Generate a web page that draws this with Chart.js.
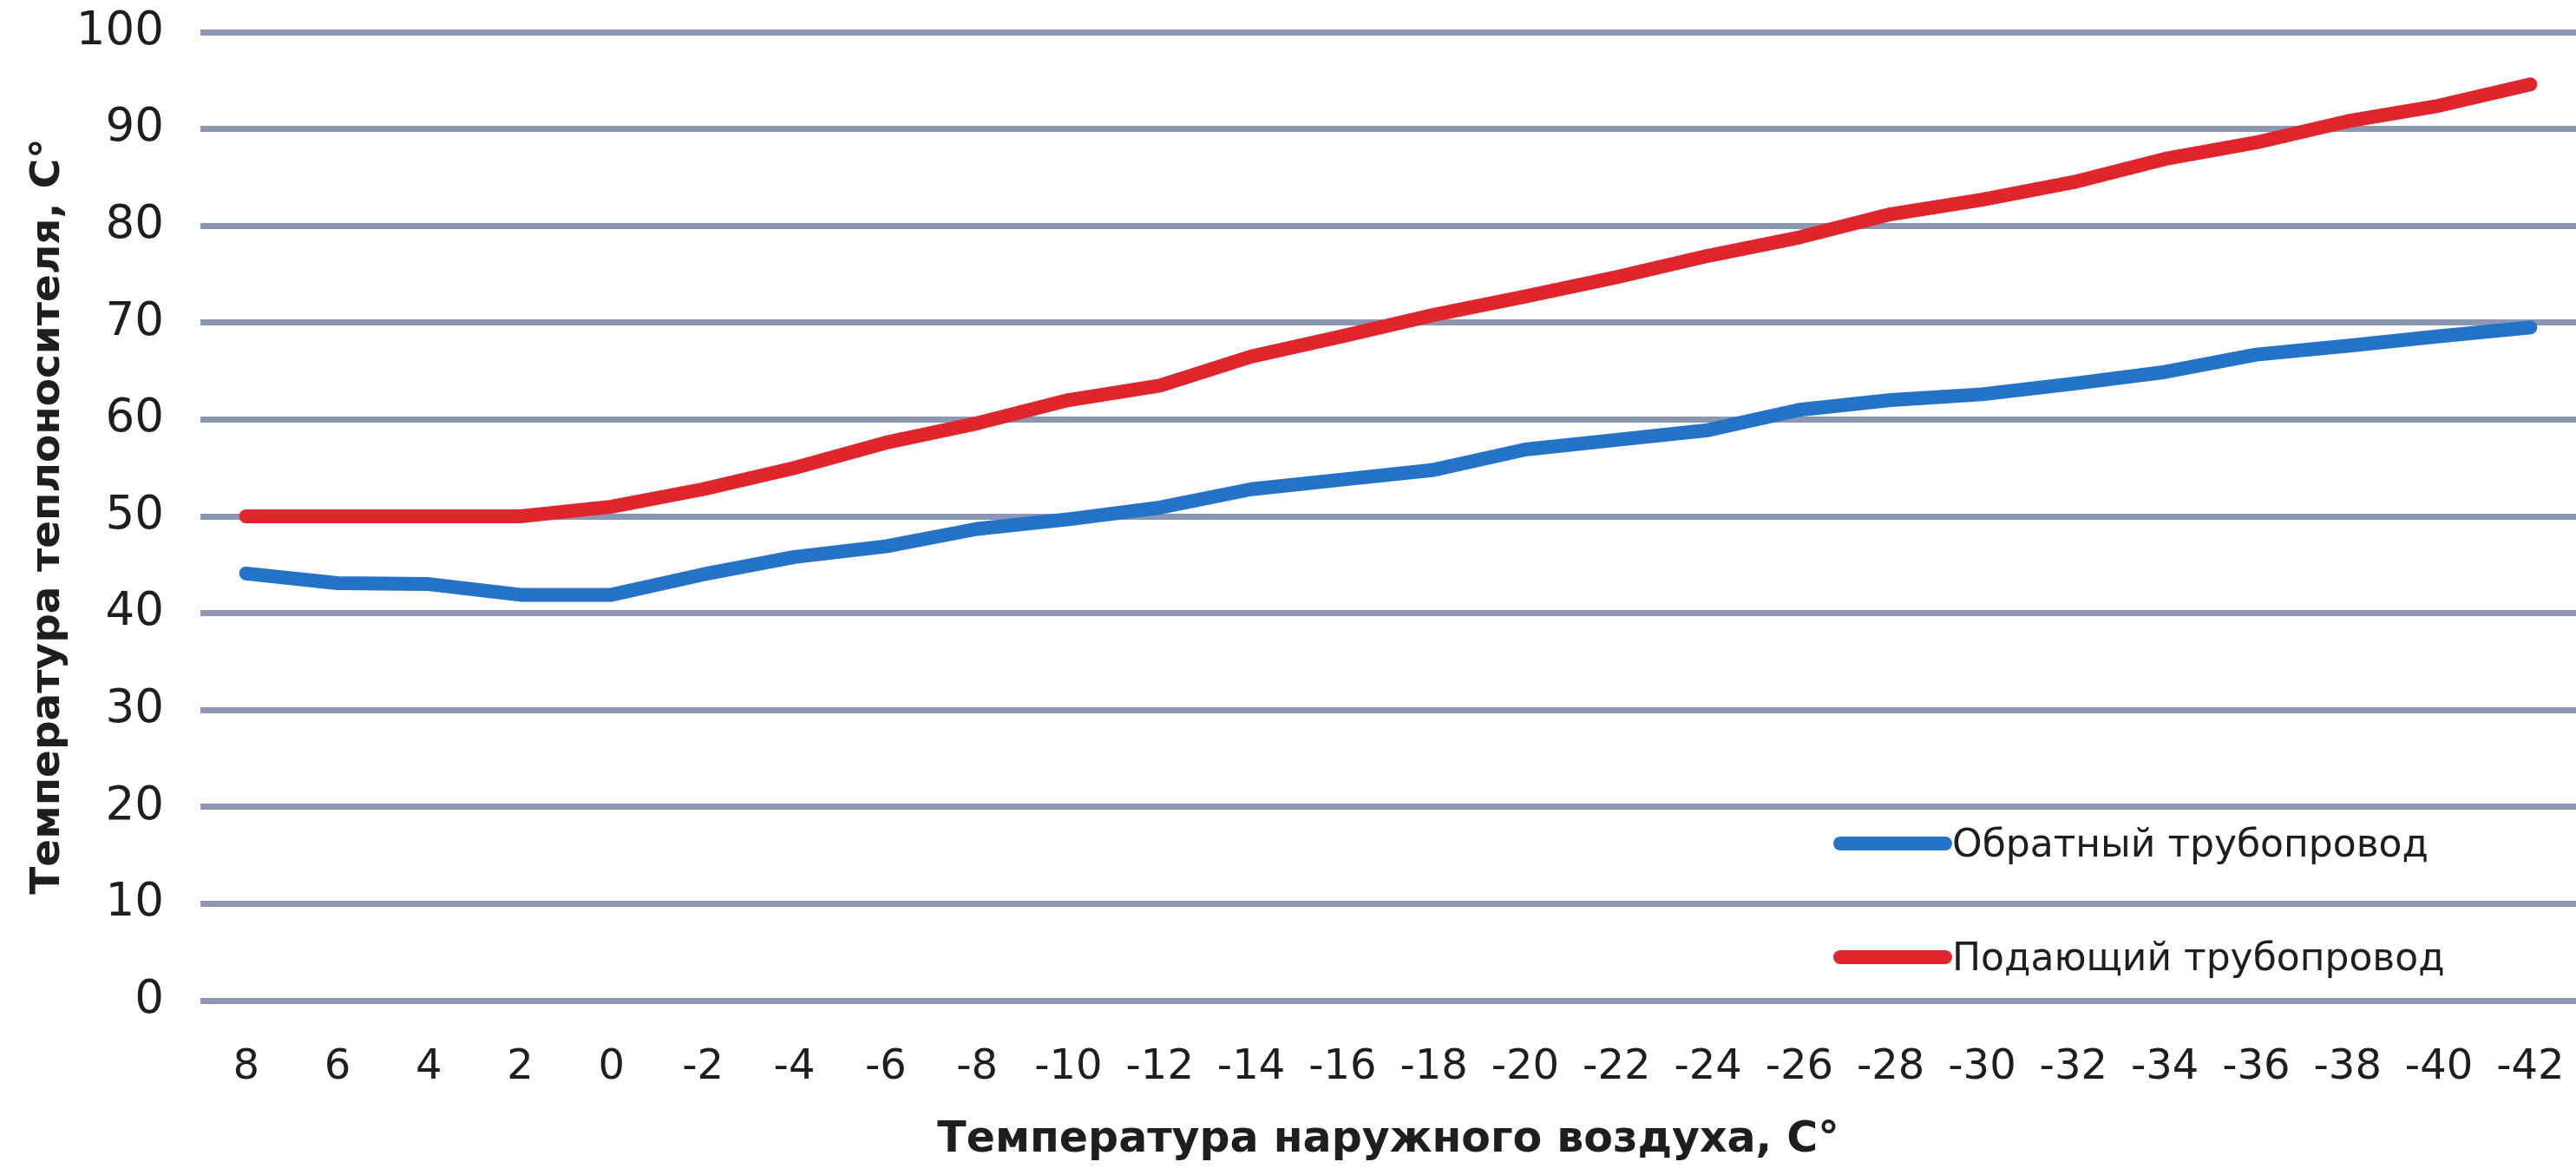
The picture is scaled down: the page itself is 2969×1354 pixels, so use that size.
<!DOCTYPE html>
<html lang="ru">
<head>
<meta charset="utf-8">
<title>Температурный график теплоносителя</title>
<script src="https://cdn.jsdelivr.net/npm/chart.js@4.4.1/dist/chart.umd.min.js"></script>
<style>
  html, body { margin: 0; padding: 0; background: #ffffff; overflow: hidden; }
  canvas { display: block; }
</style>
</head>
<body>
<canvas id="chart" width="2969" height="1354"></canvas>
<script>
// Outdoor air temperature, °C (category axis, warm to cold)
const outdoorTemps = ['8', '6', '4', '2', '0', '-2', '-4', '-6', '-8', '-10', '-12', '-14', '-16',
  '-18', '-20', '-22', '-24', '-26', '-28', '-30', '-32', '-34', '-36', '-38', '-40', '-42'];

// Return pipeline temperature, °C
const returnPipe = [44.1, 43.1, 43.0, 41.9, 41.9, 44.0, 45.8, 46.9, 48.7, 49.7, 50.9, 52.8, 53.8,
  54.8, 56.9, 57.9, 58.9, 61.0, 62.0, 62.6, 63.7, 64.9, 66.7, 67.6, 68.6, 69.5];

// Supply pipeline temperature, °C
const supplyPipe = [50.0, 50.0, 50.0, 50.0, 51.0, 52.8, 55.0, 57.6, 59.6, 62.0, 63.5, 66.5, 68.6,
  70.8, 72.7, 74.7, 76.9, 78.8, 81.2, 82.7, 84.5, 86.9, 88.6, 90.8, 92.4, 94.6];

// Value axis ticks
const yTicks = [0, 10, 20, 30, 40, 50, 60, 70, 80, 90, 100];

const seriesNames = ['Обратный трубопровод', 'Подающий трубопровод'];
const seriesColors = ['#2473c8', '#e0262c'];

const gridColor = '#8c97b3';
const textColor = '#1e1e1e';
const fontFamily = '"DejaVu Sans", Verdana, sans-serif';

// Legend drawn inside the plot, lower right
const insideLegend = {
  id: 'insideLegend',
  afterDatasetsDraw(chart) {
    const { ctx, chartArea } = chart;
    const x0 = chartArea.right - 848;
    const lineLen = 121;
    const rows = [chartArea.bottom - 181, chartArea.bottom - 50];
    ctx.save();
    chart.data.datasets.forEach((ds, i) => {
      const y = rows[i];
      ctx.strokeStyle = ds.borderColor;
      ctx.lineWidth = 16;
      ctx.lineCap = 'round';
      ctx.beginPath();
      ctx.moveTo(x0, y);
      ctx.lineTo(x0 + lineLen, y);
      ctx.stroke();
      ctx.fillStyle = textColor;
      ctx.font = '44px ' + fontFamily;
      ctx.textAlign = 'left';
      ctx.textBaseline = 'middle';
      ctx.fillText(ds.label, x0 + lineLen + 8, y + 4);
    });
    ctx.restore();
  }
};

// Keep the plot edges fixed: no extra room reserved for overhanging tick labels
function noEdgePadding(scale) {
  scale.paddingLeft = 0;
  scale.paddingRight = 0;
  scale.paddingTop = 0;
  scale.paddingBottom = 0;
}

new Chart(document.getElementById('chart'), {
  type: 'line',
  data: {
    labels: outdoorTemps,
    datasets: [
      {
        label: seriesNames[0],
        data: returnPipe,
        borderColor: seriesColors[0],
        backgroundColor: seriesColors[0],
        borderWidth: 16,
        borderCapStyle: 'round',
        borderJoinStyle: 'round',
        pointRadius: 0,
        tension: 0,
        fill: false
      },
      {
        label: seriesNames[1],
        data: supplyPipe,
        borderColor: seriesColors[1],
        backgroundColor: seriesColors[1],
        borderWidth: 16,
        borderCapStyle: 'round',
        borderJoinStyle: 'round',
        pointRadius: 0,
        tension: 0,
        fill: false
      }
    ]
  },
  options: {
    responsive: false,
    animation: false,
    events: [],
    layout: { padding: { top: 37, right: 0, bottom: 0, left: 0 } },
    plugins: {
      legend: { display: false },
      tooltip: { enabled: false },
      title: { display: false }
    },
    scales: {
      x: {
        type: 'category',
        offset: true,
        grid: { display: false, drawTicks: false },
        border: { display: false },
        ticks: {
          color: textColor,
          font: { family: fontFamily, size: 48 },
          padding: 49,
          maxRotation: 0,
          autoSkip: false
        },
        title: {
          display: true,
          text: 'Температура наружного воздуха, С°',
          color: textColor,
          font: { family: fontFamily, size: 49, weight: 'bold' },
          padding: { top: 0, bottom: 10 }
        },
        afterFit(scale) { scale.height = 201; noEdgePadding(scale); }
      },
      y: {
        min: 0,
        max: 100,
        afterBuildTicks(scale) { scale.ticks = yTicks.map(v => ({ value: v })); },
        grid: { color: gridColor, lineWidth: 7, drawTicks: false },
        border: { display: false },
        ticks: {
          color: textColor,
          font: { family: fontFamily, size: 53 },
          padding: 42
        },
        title: {
          display: true,
          text: 'Температура теплоносителя, С°',
          color: textColor,
          font: { family: fontFamily, size: 47, weight: 'bold' },
          padding: { top: 28, bottom: 0 }
        },
        afterFit(scale) { scale.width = 231; noEdgePadding(scale); }
      }
    }
  },
  plugins: [insideLegend]
});
</script>
</body>
</html>
